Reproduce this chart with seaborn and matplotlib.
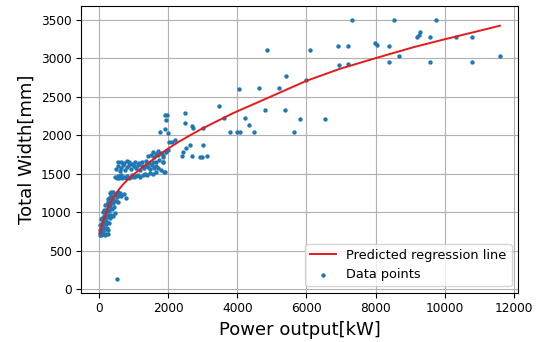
import seaborn as sns
import matplotlib.pyplot as plt
import pandas as pd

# lower strip of the dense cluster (small units)
low_x = [20, 40, 60, 90, 130, 170, 210, 250,
         30, 70, 110, 150, 190, 230, 270,
         40, 80, 120, 160, 200, 240, 290,
         60, 100, 140, 180, 220, 260, 310, 360, 420, 470,
         110, 150, 190, 230, 280, 330, 380, 430,
         170, 220, 270, 320, 370, 420, 480, 540,
         250, 300, 350, 400, 450, 510, 580, 650, 720, 790,
         310, 360, 420, 480, 550, 620]
low_y = [710, 730, 700, 720, 715, 705, 725, 715,
         770, 790, 760, 800, 780, 795, 770,
         840, 860, 830, 870, 850, 880, 860,
         910, 930, 950, 900, 940, 960, 930, 970, 950, 990,
         1000, 1030, 1010, 1050, 1020, 1060, 1040, 1070,
         1090, 1110, 1130, 1100, 1140, 1120, 1150, 1130,
         1170, 1190, 1210, 1180, 1220, 1200, 1230, 1210, 1240, 1190,
         1250, 1270, 1260, 1240, 1270, 1250]

# upper band of the cluster
band_x = [470, 510, 550, 590, 630, 680, 720, 770, 820, 870, 920, 970, 1020, 1080, 1140, 1200, 1260, 1320, 1400, 1480, 1560, 1650,
          490, 540, 600, 650, 700, 760, 820, 880, 940, 1000, 1060, 1120, 1180, 1240, 1300, 1360, 1420, 1480, 1540, 1600, 1660, 1720, 1800, 1870,
          560, 640, 720, 800, 880, 960, 1050, 1150, 1250, 1350, 1450, 1550, 1650, 1750, 1850,
          1420, 1500, 1580, 1650, 1720, 1790, 1860, 1930, 2000, 1550, 1700, 1850, 1860, 1900]
band_y = [1460, 1440, 1470, 1450, 1480, 1445, 1465, 1450, 1475, 1440, 1460, 1480, 1455, 1470, 1490, 1465, 1480, 1500, 1490, 1510, 1500, 1520,
          1560, 1600, 1540, 1580, 1610, 1550, 1590, 1620, 1560, 1600, 1580, 1610, 1550, 1600, 1570, 1620, 1590, 1560, 1610, 1580, 1600, 1570, 1550, 1520,
          1650, 1660, 1640, 1670, 1650, 1630, 1660, 1640, 1650, 1670, 1640, 1660, 1650, 1680, 1660,
          1730, 1750, 1720, 1760, 1740, 1770, 1750, 1790, 1810, 1780, 1800, 1720, 1660, 1530]

# middle units
mid_x = [1910, 1970, 1940, 1760, 1910, 2000, 2485, 2485, 2680, 2725, 2200, 2100, 2030, 2440, 2530, 2630, 2680, 2390, 2920]
mid_y = [2265, 2265, 2200, 2050, 2080, 2030, 2290, 2160, 2120, 2100, 1940, 1920, 1920, 1790, 1830, 1875, 1735, 1735, 1725]

# large units
big_x = [3000, 3000, 2970, 3110, 3460, 3610, 3800, 3980, 4070, 4060, 4220, 4330, 4480, 4630, 4790, 4860, 5200, 5380, 5420,
         5650, 5800, 6000, 6100, 6530, 6900, 6940, 7210, 7210, 7320, 7990, 8040, 8380, 8380, 8520, 8680, 9210, 9250, 9280,
         9580, 9580, 9740, 10330, 10800, 10800, 11600]
big_y = [2090, 1870, 1720, 1730, 2380, 2230, 2040, 2040, 2040, 2600, 2230, 2130, 2040, 2620, 2330, 3110, 2620, 2330, 2770,
         2040, 2210, 2720, 3110, 2210, 3160, 2910, 3160, 2930, 3500, 3200, 3170, 3160, 2960, 3500, 3030, 3280, 3310, 3340,
         3280, 2960, 3500, 3280, 3280, 2960, 3030]

# outlier
out_x = [530]
out_y = [130]

# regression line
line_x = [30, 80, 124, 200, 269, 360, 462, 580, 702, 820, 945, 1100, 1250, 1400, 1570, 1750, 1956, 2300, 2629, 2950,
          3303, 3881, 4845, 6001, 6963, 8003, 9082, 10000, 10818, 11595]
line_y = [728, 810, 879, 985, 1070, 1150, 1222, 1298, 1365, 1420, 1470, 1528, 1582, 1632, 1690, 1750, 1815, 1915, 2000, 2080,
          2160, 2290, 2480, 2710, 2865, 3005, 3145, 3250, 3340, 3426]

df = pd.DataFrame({'power': low_x + band_x + mid_x + big_x + out_x,
                   'width': low_y + band_y + mid_y + big_y + out_y})
line = pd.DataFrame({'power': line_x, 'width': line_y})

fig = plt.figure(figsize=(5.42, 3.42), dpi=100)
ax = fig.add_axes([0.150, 0.144, 0.806, 0.838])

sns.lineplot(x='power', y='width', data=line, color='#e41a1c', linewidth=1.4,
             label='Predicted regression line', ax=ax)
sns.scatterplot(x='power', y='width', data=df, color='#1f77b4', s=10, linewidth=0,
                label='Data points', ax=ax)

ax.set_xlim(-510, 12120)
ax.set_ylim(-45, 3680)
ax.grid(True, color='#b0b0b0', linewidth=0.8)
ax.set_axisbelow(True)
ax.tick_params(labelsize=8.7)
ax.set_xlabel('Power output[kW]', fontsize=13)
ax.set_ylabel('Total Width[mm]', fontsize=13)
ax.legend(loc='lower right', fontsize=9.3, scatterpoints=1)

plt.savefig('out.png', dpi=100)
